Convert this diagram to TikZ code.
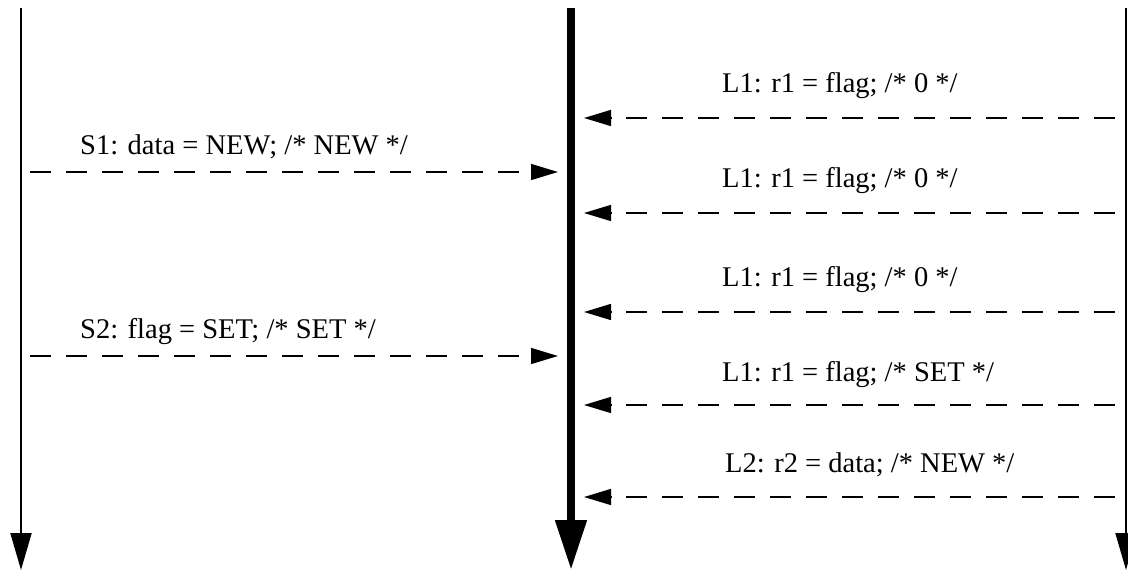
\documentclass[tikz,border=0pt]{standalone}
\usepackage{fontspec}
\setmainfont{Liberation Serif}
\usetikzlibrary{arrows.meta}
\begin{document}
\begin{tikzpicture}[x=1pt,y=-1pt,
  lifeline/.style={line width=2pt,-{Triangle[length=37pt,width=21pt]}},
  mainline/.style={line width=8pt,-{Triangle[length=50pt,width=30pt]}},
  msg/.style={line width=1.4pt,dash pattern=on 21pt off 15pt,-{Triangle[length=27pt,width=16pt]}},
  lbl/.style={anchor=base west,inner sep=0pt,font=\fontsize{28.5}{30}\selectfont}]
\useasboundingbox (0,0) rectangle (1128,570);
% lifelines
\coordinate (Ltop) at (21,8);
\coordinate (Lbot) at (21,570);
\coordinate (Mtop) at (571,8);
\coordinate (Mbot) at (571,570);
\coordinate (Rtop) at (1126,8);
\coordinate (Rbot) at (1126,570);
\draw[lifeline] (Ltop) -- (Lbot);
\draw[mainline] (Mtop) -- (Mbot);
\draw[lifeline] (Rtop) -- (Rbot);
% left messages
\coordinate (s1a) at (30,172);  \coordinate (s1b) at (558,172);
\coordinate (s2a) at (30,356);  \coordinate (s2b) at (558,356);
\draw[msg] (s1a) -- (s1b);
\draw[msg] (s2a) -- (s2b);
\node[lbl] (t1) at (80,154) {S1: data = NEW; /* NEW */};
\node[lbl] (t2) at (80,338) {S2: flag = SET; /* SET */};
% right messages
\coordinate (r1a) at (1115,118); \coordinate (r1b) at (584,118);
\coordinate (r2a) at (1115,213); \coordinate (r2b) at (584,213);
\coordinate (r3a) at (1115,312); \coordinate (r3b) at (584,312);
\coordinate (r4a) at (1115,405); \coordinate (r4b) at (584,405);
\coordinate (r5a) at (1115,497); \coordinate (r5b) at (584,497);
\draw[msg] (r1a) -- (r1b);
\draw[msg] (r2a) -- (r2b);
\draw[msg] (r3a) -- (r3b);
\draw[msg] (r4a) -- (r4b);
\draw[msg] (r5a) -- (r5b);
\node[lbl] (u1) at (722,92) {L1: r1 = flag; /* 0 */};
\node[lbl] (u2) at (722,187) {L1: r1 = flag; /* 0 */};
\node[lbl] (u3) at (722,286) {L1: r1 = flag; /* 0 */};
\node[lbl] (u4) at (722,381) {L1: r1 = flag; /* SET */};
\node[lbl] (u5) at (725,472) {L2: r2 = data; /* NEW */};
\end{tikzpicture}
\end{document}
